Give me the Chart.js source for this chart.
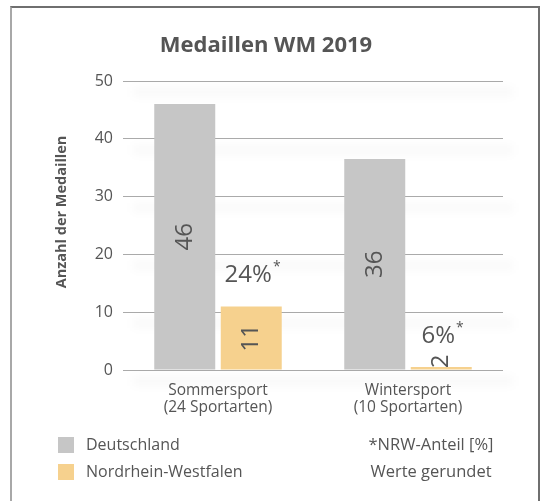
<!DOCTYPE html>
<html>
<head>
<meta charset="utf-8">
<script src="https://cdn.jsdelivr.net/npm/chart.js@4/dist/chart.umd.min.js"></script>
<style>
  html, body { margin: 0; padding: 0; background: #fff; width: 544px; height: 501px; overflow: hidden; }
  #frame { position: absolute; left: 10px; top: 6px; width: 530px; height: 600px;
           border-top: 2px solid #6f6f6f; border-right: 2px solid #6f6f6f; border-left: 2px solid #a8a8a8; box-sizing: border-box; }
  #wrap { position: absolute; left: 0; top: 0; width: 544px; height: 501px; }
</style>
</head>
<body>
<div id="frame"></div>
<div id="wrap"><canvas id="c" width="544" height="501"></canvas></div>
<script>
// ---- data ----
const chartTitle = 'Medaillen WM 2019';
const yAxisTitle = 'Anzahl der Medaillen';
const categories = [['Sommersport', '(24 Sportarten)'], ['Wintersport', '(10 Sportarten)']];
const seriesNames = ['Deutschland', 'Nordrhein-Westfalen'];
const deutschland = [46, 36.5];
const nrw = [11, 0.5];
const deutschlandLabels = ['46', '36'];
const nrwLabels = ['11', '2'];
const nrwShare = ['24%', '6%'];
const notes = ['*NRW-Anteil [%]', 'Werte gerundet'];
const yMax = 50;
const yStep = 10;

const FONT = "'Open Sans', 'Noto Sans', sans-serif";
const TEXT = '#555555';
const COLORS = ['#c6c6c6', '#f6d18e'];

const labelPlugin = {
  id: 'labels',
  beforeDatasetsDraw(chart) {
    const ctx = chart.ctx, y = chart.scales.y, a = chart.chartArea;
    ctx.save();
    ctx.filter = 'blur(4px)';
    ctx.fillStyle = 'rgba(0,0,0,0.022)';
    for (let v = 0; v <= yMax; v += yStep) {
      const py = y.getPixelForValue(v);
      ctx.fillRect(a.left + 10, py + 6, a.right - a.left, 10);
    }
    ctx.restore();
  },
  afterDatasetsDraw(chart) {
    const ctx = chart.ctx, a = chart.chartArea;
    const sets = [deutschlandLabels, nrwLabels];
    ctx.save();
    ctx.fillStyle = TEXT;
    sets.forEach((labels, di) => {
      const meta = chart.getDatasetMeta(di);
      meta.data.forEach((bar, i) => {
        const h = bar.base - bar.y;
        let cy = (bar.y + bar.base) / 2;
        ctx.save();
        ctx.beginPath();
        if (h < 20) {
          cy = bar.base - 8;
          ctx.rect(a.left, a.top, a.right - a.left, bar.y - a.top);
        } else {
          ctx.rect(a.left, a.top, a.right - a.left, a.bottom - a.top);
        }
        ctx.clip();
        ctx.translate(bar.x, cy);
        ctx.rotate(-Math.PI / 2);
        ctx.font = '24px ' + FONT;
        ctx.textAlign = 'center';
        ctx.textBaseline = 'middle';
        ctx.fillText(labels[i], 0, 0);
        ctx.restore();
      });
    });
    const meta = chart.getDatasetMeta(1);
    meta.data.forEach((bar, i) => {
      const cx = bar.x - 3, cy = bar.y - 31;
      ctx.font = '24px ' + FONT;
      ctx.textAlign = 'center';
      ctx.textBaseline = 'middle';
      ctx.fillText(nrwShare[i], cx, cy);
      const w = ctx.measureText(nrwShare[i]).width;
      ctx.font = '14px ' + FONT;
      ctx.textAlign = 'left';
      ctx.fillText('*', cx + w / 2 + 1, cy - 8);
    });
    ctx.restore();
  },
  afterDraw(chart) {
    const ctx = chart.ctx;
    ctx.save();
    ctx.fillStyle = TEXT;
    ctx.font = 'bold 22px ' + FONT;
    ctx.textAlign = 'center';
    ctx.textBaseline = 'middle';
    ctx.fillText(chartTitle, 266, 46);
    ctx.save();
    ctx.translate(62, 212);
    ctx.rotate(-Math.PI / 2);
    ctx.font = 'bold 14.5px ' + FONT;
    ctx.fillText(yAxisTitle, 0, 0);
    ctx.restore();
    const rows = [445, 472];
    seriesNames.forEach((n, i) => {
      ctx.fillStyle = COLORS[i];
      ctx.fillRect(58, rows[i] - 8, 16, 16);
      ctx.fillStyle = TEXT;
      ctx.font = '16px ' + FONT;
      ctx.textAlign = 'left';
      ctx.fillText(n, 86, rows[i]);
    });
    ctx.font = '16.5px ' + FONT;
    notes.forEach((n, i) => {
      ctx.textAlign = 'center';
      ctx.fillText(n, 431, rows[i]);
    });
    ctx.restore();
  }
};

new Chart(document.getElementById('c'), {
  type: 'bar',
  data: {
    labels: categories,
    datasets: [
      { label: seriesNames[0], data: deutschland, backgroundColor: COLORS[0] },
      { label: seriesNames[1], data: nrw, backgroundColor: COLORS[1] }
    ]
  },
  options: {
    responsive: false,
    animation: false,
    events: [],
    datasets: { bar: { categoryPercentage: 0.7, barPercentage: 0.917 } },
    layout: { padding: { left: 40, top: 81, right: 41, bottom: 71 } },
    plugins: { legend: { display: false }, title: { display: false }, tooltip: { enabled: false } },
    scales: {
      x: {
        grid: { display: false },
        border: { display: false },
        ticks: { color: TEXT, font: { family: FONT, size: 15.5, lineHeight: 1.1 }, padding: 4, maxRotation: 0 },
        afterFit(s) { s.height = 60; }
      },
      y: {
        min: 0, max: yMax,
        grid: { color: '#aaaaaa', lineWidth: 1, drawTicks: false, tickLength: 0 },
        border: { display: false },
        ticks: { stepSize: yStep, color: TEXT, font: { family: FONT, size: 16 }, padding: 10 },
        afterFit(s) { s.width = 83; }
      }
    }
  },
  plugins: [labelPlugin]
});
</script>
</body>
</html>
